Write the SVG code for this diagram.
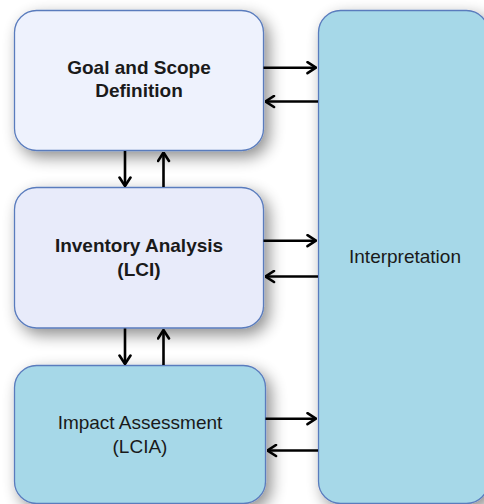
<svg xmlns="http://www.w3.org/2000/svg" width="484" height="504" viewBox="0 0 484 504">
<defs>
<style>
.box{stroke:#5a7cbd;stroke-width:1.3}
.c1{fill:#eef2fd}
.c2{fill:#e8ebfa}
.c3{fill:#a6d8e8}
.conn{stroke:#000;stroke-width:2.6;fill:none}
.hd{stroke:#000;stroke-width:2.6;fill:none;stroke-linecap:round;stroke-linejoin:miter}
text{font-family:"Liberation Sans",Arial,Helvetica,sans-serif;font-size:19px;fill:#1a1a1a;text-anchor:middle}
.b{font-weight:bold}
</style>
<filter id="sh" x="-30%" y="-30%" width="160%" height="160%">
<feGaussianBlur in="SourceAlpha" stdDeviation="8"/>
<feOffset dx="5" dy="6" result="o"/>
<feComponentTransfer><feFuncA type="linear" slope="0.45"/></feComponentTransfer>
<feMerge><feMergeNode/><feMergeNode in="SourceGraphic"/></feMerge>
</filter>
<marker id="ah" viewBox="0 0 11 14" refX="10" refY="7" markerWidth="11" markerHeight="14" markerUnits="userSpaceOnUse" orient="auto">
<polyline points="1.5,1.5 10,7 1.5,12.5" class="hd"/>
</marker>
</defs>
<rect width="484" height="504" fill="#fff"/>
<g id="interpretation">
<rect class="box c3" x="318.5" y="10.5" width="170" height="493" rx="22" filter="url(#sh)"/>
<text x="405" y="263">Interpretation</text>
</g>
<g id="goal">
<rect class="box c1" x="14.5" y="10.5" width="249" height="140" rx="22" filter="url(#sh)"/>
<text class="b" x="139" y="74">Goal and Scope</text>
<text class="b" x="139" y="97">Definition</text>
</g>
<g id="inventory">
<rect class="box c2" x="14.5" y="187.5" width="249" height="140.5" rx="22" filter="url(#sh)"/>
<text class="b" x="139" y="252">Inventory Analysis</text>
<text class="b" x="139" y="276">(LCI)</text>
</g>
<g id="impact">
<rect class="box c3" x="14.5" y="365.5" width="251" height="138" rx="22" filter="url(#sh)"/>
<text x="140" y="429">Impact Assessment</text>
<text x="140" y="453">(LCIA)</text>
</g>
<g id="connectors">
<line class="conn" x1="263.5" y1="67.7" x2="316" y2="67.7" marker-end="url(#ah)"/>
<line class="conn" x1="318" y1="101.5" x2="265.5" y2="101.5" marker-end="url(#ah)"/>
<line class="conn" x1="263.5" y1="240.7" x2="316" y2="240.7" marker-end="url(#ah)"/>
<line class="conn" x1="318" y1="276.5" x2="265.5" y2="276.5" marker-end="url(#ah)"/>
<line class="conn" x1="265.5" y1="418.7" x2="316" y2="418.7" marker-end="url(#ah)"/>
<line class="conn" x1="318" y1="450.5" x2="267.5" y2="450.5" marker-end="url(#ah)"/>
<line class="conn" x1="125" y1="151" x2="125" y2="186" marker-end="url(#ah)"/>
<line class="conn" x1="163.5" y1="187" x2="163.5" y2="152.5" marker-end="url(#ah)"/>
<line class="conn" x1="125" y1="328.5" x2="125" y2="364" marker-end="url(#ah)"/>
<line class="conn" x1="163.5" y1="365" x2="163.5" y2="330" marker-end="url(#ah)"/>
</g>
</svg>
